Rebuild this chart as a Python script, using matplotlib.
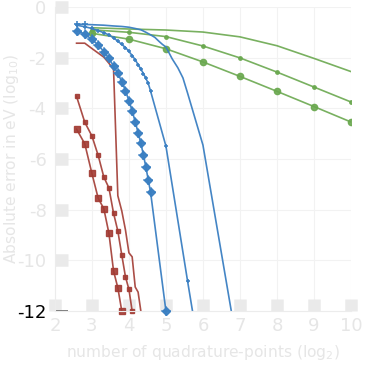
import numpy as np
import matplotlib.pyplot as plt

plt.rcParams['axes.unicode_minus'] = False

# blue, large diamonds
b3_n = list(range(6, 25)) + [32]
b3_err = [-0.93, -1.07, -1.28, -1.50, -1.76, -2.03, -2.33, -2.62, -2.95, -3.30,
          -3.70, -4.10, -4.53, -4.96, -5.38, -5.84, -6.33, -6.83, -7.31, -12.0]

# blue, small plus markers
b2_n = list(range(6, 25)) + [32, 48, 64]
b2_err = [-0.72, -0.78, -0.85, -0.93, -1.02, -1.10, -1.22, -1.35, -1.48, -1.60,
          -1.75, -1.92, -2.08, -2.28, -2.45, -2.63, -2.82, -3.02, -3.32,
          -5.49, -10.82, -14.5]

# blue, top line
b1_n = [6, 7, 8, 10, 12, 14, 16, 18, 20, 22, 24, 26, 28, 30, 32, 36, 40, 44, 48, 64, 128]
b1_err = [-0.67, -0.69, -0.70, -0.72, -0.75, -0.77, -0.80, -0.85, -0.90, -1.00,
          -1.10, -1.20, -1.35, -1.48, -1.58, -2.05, -2.40, -2.80, -3.40, -5.45, -14.0]

# red
r1_n = list(range(6, 21))
r1_err = [-1.43, -1.43, -1.64, -1.82, -1.98, -2.22, -2.47, -7.45, -8.05, -8.80,
          -9.70, -9.86, -11.05, -11.25, -12.0]
r2_n = list(range(6, 18))
r2_err = [-3.53, -4.55, -5.09, -5.86, -6.71, -7.14, -8.14, -8.84, -9.79, -10.65,
          -11.14, -12.0]
r3_n = list(range(6, 15))
r3_err = [-4.82, -5.40, -6.57, -7.55, -7.96, -8.93, -10.42, -11.08, -12.0]

# green, powers of two
g_n = [8, 16, 32, 64, 128, 256, 512, 1024]
g1_err = [-0.82, -0.87, -0.91, -0.99, -1.18, -1.53, -2.03, -2.55]
g2_err = [-0.90, -1.00, -1.17, -1.54, -2.01, -2.57, -3.16, -3.75]
g3_err = [-1.04, -1.27, -1.65, -2.17, -2.74, -3.33, -3.93, -4.54]

blue = '#3a7fc2'
red = '#a23b33'
green = '#6aa84f'
light = '#e6e6e6'

fig = plt.figure(figsize=(3.66, 3.66), dpi=100)
ax = fig.add_axes([0.150, 0.150, 0.809, 0.831])

lw = 1.2
# green
ax.plot(np.log2(g_n), g1_err, color=green, lw=lw, alpha=0.9)
ax.plot(np.log2(g_n), g2_err, color=green, lw=lw, marker='o', ms=2.5, alpha=0.9)
ax.plot(np.log2(g_n), g3_err, color=green, lw=lw, marker='o', ms=4.5, alpha=0.9)

# blue
ax.plot(np.log2(b1_n), b1_err, color=blue, lw=lw, marker='+', ms=4, mew=1.2,
        markevery=[0, 1], alpha=0.95)
ax.plot(np.log2(b2_n), b2_err, color=blue, lw=lw, marker='+', ms=3.5, mew=1.2, alpha=0.95)
ax.plot(np.log2(b3_n), b3_err, color=blue, lw=lw, marker='D', ms=4.2, alpha=0.95,
        clip_on=False, zorder=4)
ax.plot(np.log2(b3_n), b3_err, color=blue, lw=0, marker='+', ms=7, mew=1.4, alpha=0.6,
        clip_on=False, zorder=4)

# red
ax.plot(np.log2(r1_n), r1_err, color=red, lw=lw, alpha=0.9)
ax.plot(np.log2(r2_n), r2_err, color=red, lw=lw, marker='s', ms=2.8, alpha=0.9, clip_on=False)
ax.plot(np.log2(r3_n), r3_err, color=red, lw=lw, marker='s', ms=4.5, alpha=0.9, clip_on=False)

ax.set_xlim(2, 10)
ax.set_ylim(-12, 0)
ax.set_xticks(range(2, 11))
ax.set_yticks(range(-12, 1, 2))
ax.grid(True, color='#f2f2f2', lw=0.8)
ax.set_axisbelow(True)

for s in ['top', 'right']:
    ax.spines[s].set_visible(False)
for s in ['left', 'bottom']:
    ax.spines[s].set_color('#ececec')

ax.tick_params(direction='in', length=9, width=9, color='#eaeaea', labelcolor=light,
               labelsize=13)
ax.tick_params(axis='y', pad=6)
ax.tick_params(axis='x', pad=4)
ax.yaxis.set_zorder(0.6)

# highlighted lowest tick
ylab = ax.get_yticklabels()
ylab[0].set_color('black')
ticks = ax.yaxis.get_major_ticks()
ticks[0].tick1line.set_markeredgecolor('#666666')
ticks[0].tick1line.set_markeredgewidth(1.2)

ax.set_xlabel('number of quadrature-points (log$_2$)', color=light, fontsize=11.2,
              labelpad=6)
ax.set_ylabel('Absolute error in eV (log$_{10}$)', color=light, fontsize=11.2)
ax.yaxis.set_label_coords(-0.115, 0.5)

fig.savefig('out.png', dpi=100)
